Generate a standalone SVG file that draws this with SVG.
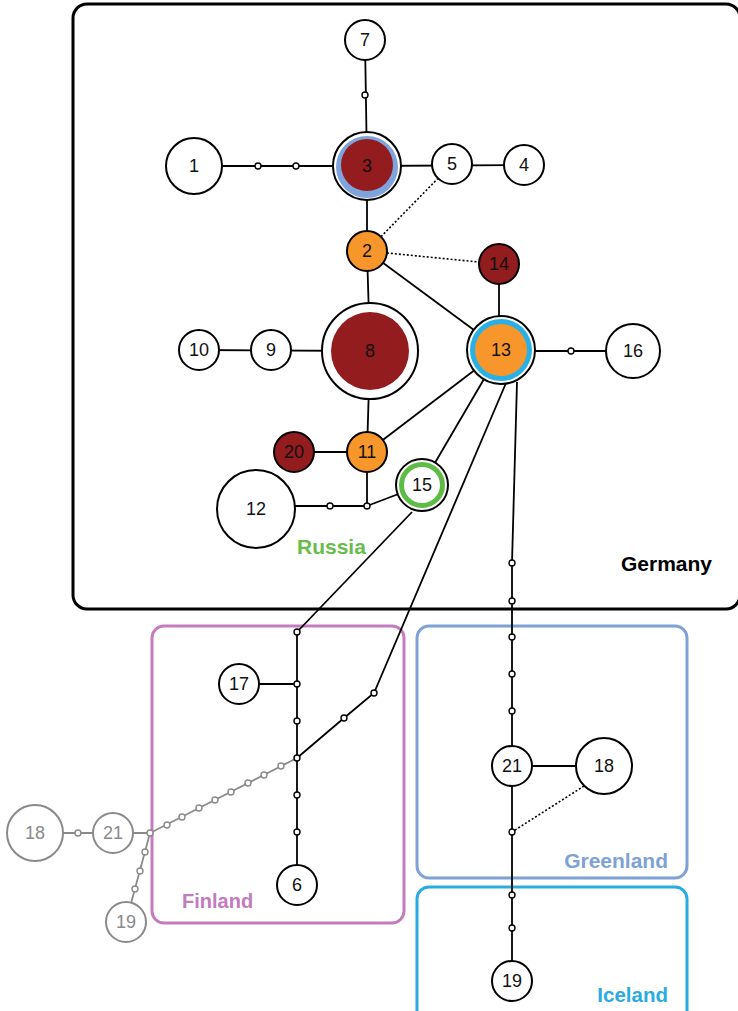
<svg xmlns="http://www.w3.org/2000/svg" width="738" height="1011" viewBox="0 0 738 1011">
<style>
.n{fill:#fff;stroke:#000;stroke-width:2}
.g .n{stroke:#8a8a8a}
.t{font-family:"Liberation Sans",Arial,sans-serif;font-size:18px;fill:#111;text-anchor:middle;dominant-baseline:central}
.g .t{fill:#8a8a8a}
.red{fill:#931c1f}
.org{fill:#f7962a}
.c line,.c polyline{stroke:#000;stroke-width:1.8;fill:none}
.c .gr{stroke:#8a8a8a}
.c .dot{stroke-dasharray:2 2;stroke-width:1.6}
.d circle{fill:#fff;stroke:#000;stroke-width:1.4}
.d .gd{stroke:#8a8a8a}
.box{fill:none;stroke-width:3}
.lab{font-family:"Liberation Sans",Arial,sans-serif;font-weight:bold}
</style>
<rect width="738" height="1011" fill="#fff"/>
<g id="regions">
<rect id="germany-box" class="box" x="73" y="4" width="667" height="605" rx="14" stroke="#000"/>
<rect id="finland-box" class="box" x="152" y="626" width="252" height="297" rx="12" stroke="#c47cbf"/>
<rect id="greenland-box" class="box" x="417" y="626" width="270" height="252" rx="12" stroke="#7ea2d6"/>
<rect id="iceland-box" class="box" x="417" y="887" width="270" height="140" rx="12" stroke="#29abe2"/>
<text class="lab" x="712" y="571" font-size="21" text-anchor="end" fill="#000">Germany</text>
<text class="lab" x="297" y="554" font-size="21" fill="#67bd4a">Russia</text>
<text class="lab" x="182" y="908" font-size="20" fill="#c27bbd">Finland</text>
<text class="lab" x="668" y="868" font-size="21" text-anchor="end" fill="#7ea2d6">Greenland</text>
<text class="lab" x="668" y="1002" font-size="20.5" text-anchor="end" fill="#2aabe2">Iceland</text>
</g>
<g id="connectors" class="c">
<line x1="365" y1="40" x2="367" y2="166"/>
<line x1="194" y1="166" x2="367" y2="166"/>
<line x1="367" y1="166" x2="524" y2="165"/>
<line x1="367" y1="166" x2="367" y2="251"/>
<line x1="367" y1="251" x2="370" y2="351"/>
<line x1="199" y1="350" x2="370" y2="351"/>
<line x1="370" y1="351" x2="367" y2="452"/>
<line x1="294" y1="452" x2="367" y2="452"/>
<line x1="367" y1="452" x2="367" y2="506"/>
<line x1="256" y1="506" x2="367" y2="506"/>
<line x1="367" y1="506" x2="422" y2="485"/>
<line x1="367" y1="251" x2="501" y2="350"/>
<line x1="499" y1="264" x2="499" y2="350"/>
<line x1="501" y1="350" x2="367" y2="452"/>
<line x1="501" y1="350" x2="422" y2="485"/>
<line x1="501" y1="351" x2="633" y2="351"/>
<line x1="412" y1="512" x2="297" y2="632"/>
<polyline points="506,383 374,693 344,718 297,758"/>
<polyline points="517,382 512,563 512,981"/>
<line x1="512" y1="766" x2="604" y2="766"/>
<line class="dot" x1="367" y1="251" x2="452" y2="164"/>
<line class="dot" x1="367" y1="251" x2="499" y2="264"/>
<line class="dot" x1="584" y1="786" x2="512" y2="832"/>
<line x1="297" y1="632" x2="297" y2="885"/>
<line x1="239" y1="684" x2="297" y2="684"/>
<polyline class="gr" points="297,758 150,833 126,922"/>
<line class="gr" x1="35" y1="833" x2="150" y2="833"/>
</g>
<g id="node-1"><circle class="n" cx="194" cy="166" r="28"/><text class="t" x="194" y="166">1</text></g>
<g id="node-3"><circle class="n" cx="367" cy="166" r="34"/><circle cx="367" cy="167" r="31" fill="#7fa3dc"/><circle class="red" cx="367" cy="165" r="26"/><text class="t" x="367" y="166">3</text></g>
<g id="node-7"><circle class="n" cx="365" cy="40" r="20"/><text class="t" x="365" y="40">7</text></g>
<g id="node-5"><circle class="n" cx="452" cy="164" r="20"/><text class="t" x="452" y="164">5</text></g>
<g id="node-4"><circle class="n" cx="524" cy="165" r="20"/><text class="t" x="524" y="165">4</text></g>
<g id="node-2"><circle class="n org" cx="367" cy="251" r="20"/><text class="t" x="367" y="251">2</text></g>
<g id="node-14"><circle class="n red" cx="499" cy="264" r="20"/><text class="t" x="499" y="264">14</text></g>
<g id="node-8"><circle class="n" cx="370" cy="351" r="48"/><circle class="red" cx="370" cy="351" r="39"/><text class="t" x="370" y="351">8</text></g>
<g id="node-10"><circle class="n" cx="199" cy="350" r="20"/><text class="t" x="199" y="350">10</text></g>
<g id="node-9"><circle class="n" cx="271" cy="350" r="20"/><text class="t" x="271" y="350">9</text></g>
<g id="node-13"><circle class="n" cx="501" cy="350" r="34"/><circle cx="501" cy="350" r="31" fill="#2ab0e4"/><circle class="org" cx="501" cy="350" r="26"/><text class="t" x="501" y="350">13</text></g>
<g id="node-16"><circle class="n" cx="633" cy="351" r="27"/><text class="t" x="633" y="351">16</text></g>
<g id="node-20"><circle class="n red" cx="294" cy="452" r="20"/><text class="t" x="294" y="452">20</text></g>
<g id="node-11"><circle class="n org" cx="367" cy="452" r="20"/><text class="t" x="367" y="452">11</text></g>
<g id="node-15"><circle class="n" cx="422" cy="485" r="26"/><circle cx="422" cy="485" r="20.5" fill="none" stroke="#5dbb46" stroke-width="5"/><text class="t" x="422" y="485">15</text></g>
<g id="node-12"><circle class="n" cx="256" cy="509" r="39"/><text class="t" x="256" y="509">12</text></g>
<g id="node-17"><circle class="n" cx="239" cy="684" r="20"/><text class="t" x="239" y="684">17</text></g>
<g id="node-6"><circle class="n" cx="297" cy="885" r="20"/><text class="t" x="297" y="885">6</text></g>
<g id="node-21"><circle class="n" cx="512" cy="766" r="20"/><text class="t" x="512" y="766">21</text></g>
<g id="node-18"><circle class="n" cx="604" cy="766" r="28"/><text class="t" x="604" y="766">18</text></g>
<g id="node-19"><circle class="n" cx="512" cy="981" r="20"/><text class="t" x="512" y="981">19</text></g>
<g id="node-21-gray" class="g"><circle class="n" cx="113" cy="833" r="20"/><text class="t" x="113" y="833">21</text></g>
<g id="node-18-gray" class="g"><circle class="n" cx="35" cy="833" r="28"/><text class="t" x="35" y="833">18</text></g>
<g id="node-19-gray" class="g"><circle class="n" cx="126" cy="922" r="20"/><text class="t" x="126" y="922">19</text></g>
<g id="median-vectors" class="d">
<circle cx="365" cy="95" r="3"/>
<circle cx="258" cy="166" r="3"/>
<circle cx="296" cy="166" r="3"/>
<circle cx="571" cy="351" r="3"/>
<circle cx="330" cy="506" r="3"/>
<circle cx="367" cy="506" r="3"/>
<circle cx="512" cy="563" r="3"/>
<circle cx="512" cy="601" r="3"/>
<circle cx="512" cy="637" r="3"/>
<circle cx="512" cy="674" r="3"/>
<circle cx="512" cy="711" r="3"/>
<circle cx="512" cy="832" r="3"/>
<circle cx="512" cy="895" r="3"/>
<circle cx="512" cy="928" r="3"/>
<circle cx="297" cy="632" r="3"/>
<circle cx="297" cy="684" r="3"/>
<circle cx="297" cy="721" r="3"/>
<circle cx="297" cy="758" r="3"/>
<circle cx="297" cy="795" r="3"/>
<circle cx="297" cy="832" r="3"/>
<circle cx="374" cy="693" r="3"/>
<circle cx="344" cy="718" r="3"/>
<circle class="gd" cx="78" cy="833" r="3"/>
<circle class="gd" cx="281" cy="766" r="3"/>
<circle class="gd" cx="264" cy="775" r="3"/>
<circle class="gd" cx="248" cy="783" r="3"/>
<circle class="gd" cx="231" cy="792" r="3"/>
<circle class="gd" cx="215" cy="800" r="3"/>
<circle class="gd" cx="199" cy="808" r="3"/>
<circle class="gd" cx="182" cy="817" r="3"/>
<circle class="gd" cx="167" cy="825" r="3"/>
<circle class="gd" cx="150" cy="833" r="3"/>
<circle class="gd" cx="145" cy="852" r="3"/>
<circle class="gd" cx="140" cy="871" r="3"/>
<circle class="gd" cx="135" cy="889" r="3"/>
</g>
</svg>
